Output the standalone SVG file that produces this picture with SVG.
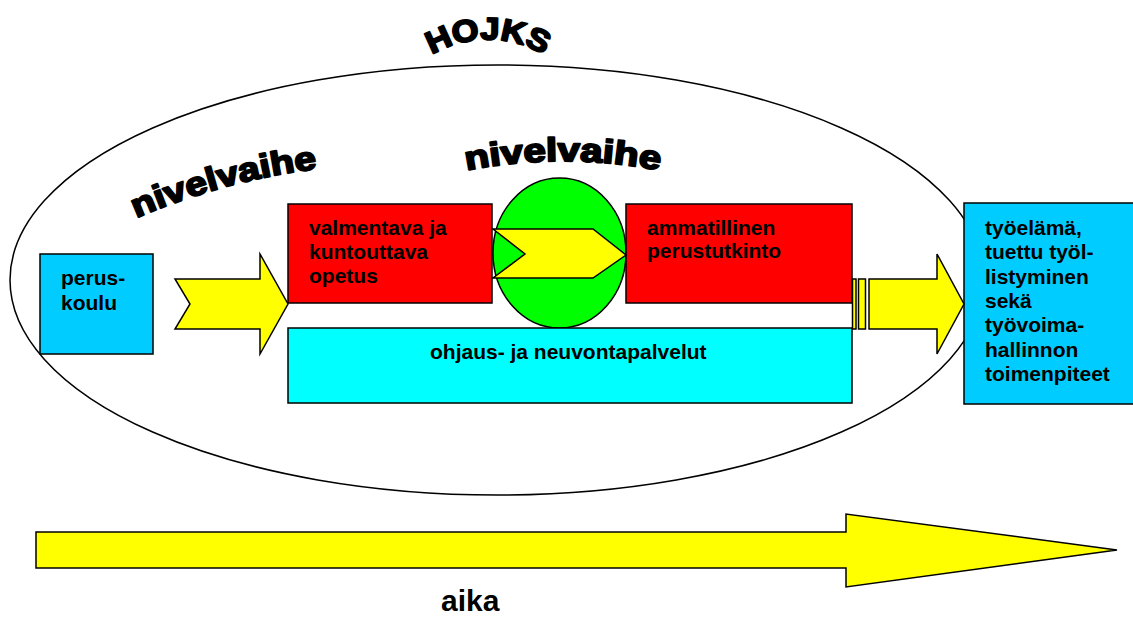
<svg xmlns="http://www.w3.org/2000/svg" width="1133" height="618" viewBox="0 0 1133 618">
<style>
.box{stroke:#000;stroke-width:1.5}
.blue{fill:#00CCFF}
.red{fill:#FF0000}
.cyan{fill:#00FFFF}
.arrow{fill:#FFFF00;stroke:#000;stroke-width:1.5;stroke-linejoin:miter}
.t{font-family:"Liberation Sans",Arial,sans-serif;font-weight:bold;font-size:21px;fill:#000}
.big{font-size:30px}
.art{font-family:"Liberation Sans",Arial,sans-serif;font-weight:900;fill:#000;stroke:#000;stroke-width:2;stroke-linejoin:round}
</style>
<defs>
<path id="arcHojks" d="M 408 74 A 110 110 0 0 1 568 74"/>
<path id="arcNiv1" d="M 130 221 A 650 650 0 0 1 324 168"/>
<path id="arcNiv2" d="M 450 174 A 500 500 0 0 1 676 174"/>
</defs>
<rect width="1133" height="618" fill="#fff"/>

<g id="hojks">
<ellipse cx="497" cy="280" rx="487" ry="215" fill="none" stroke="#000" stroke-width="1.5"/>
<text class="art" font-size="31"><textPath href="#arcHojks" startOffset="50%" text-anchor="middle" textLength="118" lengthAdjust="spacingAndGlyphs">HOJKS</textPath></text>
</g>

<g id="nivelvaihe1">
<text class="art" font-size="33"><textPath href="#arcNiv1" startOffset="50%" text-anchor="middle" textLength="188" lengthAdjust="spacingAndGlyphs">nivelvaihe</textPath></text>
</g>

<g id="nivelvaihe2">
<text class="art" font-size="33"><textPath href="#arcNiv2" startOffset="50%" text-anchor="middle" textLength="194" lengthAdjust="spacingAndGlyphs">nivelvaihe</textPath></text>
</g>

<g id="peruskoulu">
<rect class="box blue" x="40" y="254" width="113" height="100"/>
<text class="t" x="61" y="285">perus-</text>
<text class="t" x="61" y="310">koulu</text>
</g>

<g id="transition">
<ellipse cx="559.5" cy="253" rx="66.5" ry="75" fill="#00FF00" stroke="#000" stroke-width="1.5"/>
</g>

<g id="valmentava">
<rect class="box red" x="288" y="204" width="204" height="99"/>
<text class="t" x="309" y="235">valmentava ja</text>
<text class="t" x="309" y="259">kuntouttava</text>
<text class="t" x="309" y="283">opetus</text>
</g>

<g id="ammatillinen">
<rect class="box red" x="626" y="204" width="226" height="99"/>
<text class="t" x="647" y="235">ammatillinen</text>
<text class="t" x="647" y="258">perustutkinto</text>
</g>

<g id="ohjaus">
<rect class="box cyan" x="288" y="328" width="564" height="75"/>
<text class="t" x="430" y="359">ohjaus- ja neuvontapalvelut</text>
</g>

<g id="tyoelama">
<rect class="box blue" x="964" y="203" width="180" height="201"/>
<text class="t" x="985" y="235">työelämä,</text>
<text class="t" x="985" y="259">tuettu työl-</text>
<text class="t" x="985" y="284">listyminen</text>
<text class="t" x="985" y="308">sekä</text>
<text class="t" x="985" y="332">työvoima-</text>
<text class="t" x="985" y="357">hallinnon</text>
<text class="t" x="985" y="381">toimenpiteet</text>
</g>

<g id="connectors">
<polygon class="arrow" points="175,279 260,279 260,254 288,304 260,354 260,329 175,329 190,304"/>
<polygon class="arrow" points="493,229 593,229 626,255 593,278 493,278 525,254"/>
<rect class="arrow" x="852.5" y="279" width="3.5" height="50"/>
<rect class="arrow" x="858.5" y="279" width="7" height="50"/>
<polygon class="arrow" points="869,279 937,279 937,254 964,304 937,354 937,329 869,329"/>
<polygon class="arrow" points="36,532 846,532 846,514 1117,550 846,587 846,568 36,568"/>
</g>

<g id="aika">
<text class="t big" x="441" y="611">aika</text>
</g>
</svg>
